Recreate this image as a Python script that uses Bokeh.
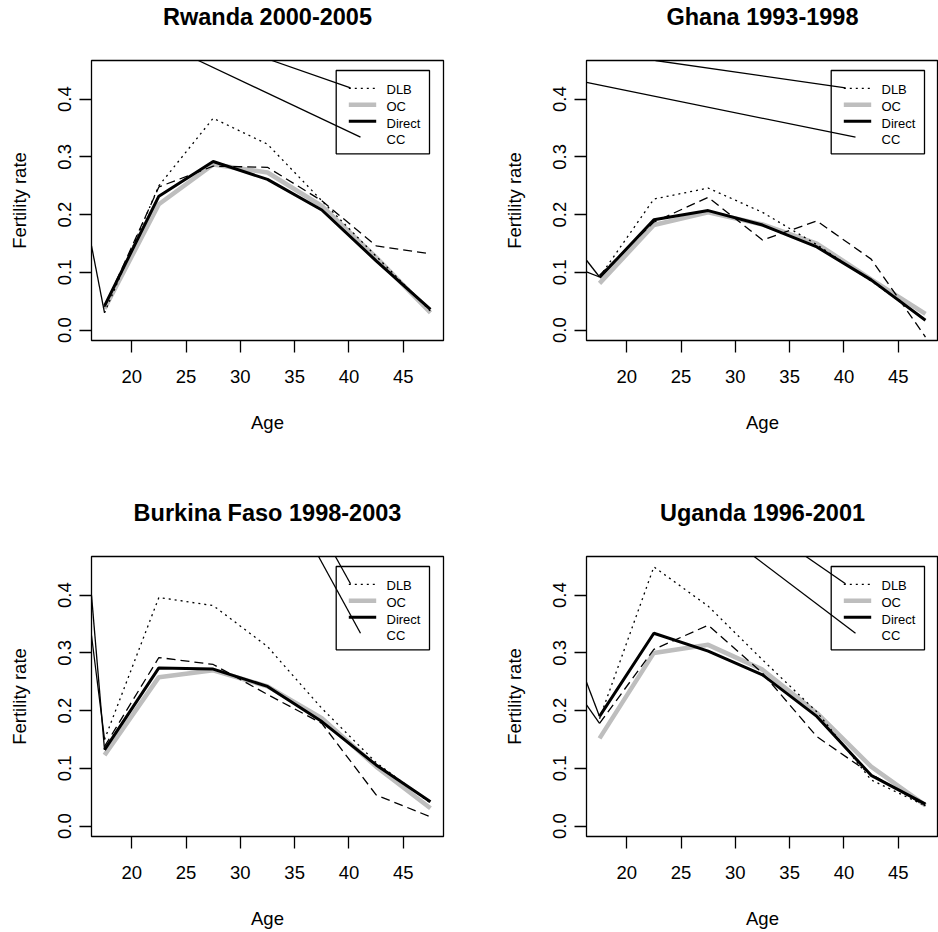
from bokeh.plotting import figure
from bokeh.models import Range1d, FixedTicker, NumeralTickFormatter, LinearAxis
from bokeh.layouts import column, row
from bokeh.embed import file_html
from bokeh.resources import INLINE
from bokeh.core.properties import value

# ---------------- data ----------------
ages = [17.5, 22.5, 27.5, 32.5, 37.5, 42.5, 47.5]
x_ticks = [20, 25, 30, 35, 40, 45]
y_ticks = [0.0, 0.1, 0.2, 0.3, 0.4]
titles = ["Rwanda 2000-2005", "Ghana 1993-1998",
          "Burkina Faso 1998-2003", "Uganda 1996-2001"]
legend_labels = ["DLB", "OC", "Direct", "CC"]

rwanda_dlb    = [0.030, 0.250, 0.367, 0.322, 0.224, 0.128, 0.033]
rwanda_oc     = [0.037, 0.218, 0.287, 0.273, 0.215, 0.126, 0.030]
rwanda_direct = [0.042, 0.232, 0.292, 0.261, 0.208, 0.120, 0.036]
rwanda_cc     = [0.040, 0.248, 0.284, 0.282, 0.224, 0.146, 0.132]

ghana_dlb    = [0.092, 0.227, 0.246, 0.204, 0.148, 0.085, 0.018]
ghana_oc     = [0.081, 0.182, 0.204, 0.183, 0.150, 0.088, 0.028]
ghana_direct = [0.091, 0.191, 0.207, 0.182, 0.144, 0.087, 0.017]
ghana_cc     = [0.095, 0.187, 0.230, 0.156, 0.189, 0.123, -0.012]

burkina_dlb    = [0.150, 0.396, 0.382, 0.311, 0.204, 0.110, 0.040]
burkina_oc     = [0.123, 0.258, 0.270, 0.242, 0.187, 0.103, 0.031]
burkina_direct = [0.132, 0.274, 0.272, 0.242, 0.181, 0.106, 0.042]
burkina_cc     = [0.138, 0.292, 0.280, 0.228, 0.178, 0.054, 0.016]

uganda_dlb    = [0.186, 0.449, 0.381, 0.288, 0.198, 0.080, 0.035]
uganda_oc     = [0.152, 0.300, 0.314, 0.271, 0.196, 0.103, 0.036]
uganda_direct = [0.190, 0.334, 0.303, 0.262, 0.190, 0.088, 0.038]
uganda_cc     = [0.178, 0.306, 0.348, 0.265, 0.155, 0.090, 0.035]

panel_series = [
    (rwanda_dlb, rwanda_oc, rwanda_direct, rwanda_cc),
    (ghana_dlb, ghana_oc, ghana_direct, ghana_cc),
    (burkina_dlb, burkina_oc, burkina_direct, burkina_cc),
    (uganda_dlb, uganda_oc, uganda_direct, uganda_cc),
]

# stray thin lines seen in the original (data coordinates)
# long lines: where they enter the frame (x, y); they run to the legend
stray_dlb_entry = [(32.9, 0.467), (22.65, 0.467), (38.75, 0.467), (36.5, 0.467)]
stray_cc_entry  = [(26.13, 0.467), (16.3, 0.429), (37.2, 0.467), (31.73, 0.467)]
# short lines from the left edge to the first age group
stray_left = [
    [(0.146, 0.030)],
    [(0.121, 0.092), (0.101, 0.092)],
    [(0.400, 0.132), (0.330, 0.150)],
    [(0.249, 0.190), (0.210, 0.178)],
]

# ---------------- layout ----------------
XR = (16.3, 48.7)
YR = (-0.018, 0.467)
FW, FH = 352, 280
FONT = "Liberation Sans"
GRAY = "#BEBEBE"


def px2x(off):
    return XR[0] + off * (XR[1] - XR[0]) / FW


def px2y(off):
    return YR[1] - off * (YR[1] - YR[0]) / FH


def make_panel(i):
    col = i % 2
    rw = i // 2
    p = figure(frame_width=FW, frame_height=FH,
               x_range=Range1d(*XR), y_range=Range1d(*YR),
               output_backend="svg", toolbar_location=None,
               min_border_left=91, min_border_right=(52 if col == 0 else 0),
               min_border_top=60, min_border_bottom=(156 if rw == 0 else 96),
               background_fill_color="white", border_fill_color="white")
    p.outline_line_color = "black"
    p.outline_line_width = 1.3
    p.grid.visible = False

    xax = p.below[0]
    yax = p.left[0]

    for ax in (xax, yax):
        ax.axis_line_color = None
        ax.major_tick_line_color = "black"
        ax.major_tick_line_width = 1.3
        ax.major_tick_out = 12
        ax.major_tick_in = 0
        ax.minor_tick_line_color = None
        ax.major_label_text_font = FONT
        ax.major_label_text_font_size = "18.5px"
        ax.major_label_text_color = "black"
        ax.axis_label_text_font = FONT
        ax.axis_label_text_font_size = "18.5px"
        ax.axis_label_text_font_style = "normal"
        ax.axis_label_text_color = "black"
    xax.ticker = FixedTicker(ticks=x_ticks)
    yax.ticker = FixedTicker(ticks=y_ticks)
    yax.formatter = NumeralTickFormatter(format="0.0")
    yax.major_label_orientation = "vertical"
    xax.axis_label = "Age"
    yax.axis_label = "Fertility rate"
    xax.major_label_standoff = 17
    yax.major_label_standoff = 8
    xax.axis_label_standoff = 26
    yax.axis_label_standoff = 26

    # title: an empty axis above the frame whose label is the panel title
    top = LinearAxis(ticker=FixedTicker(ticks=[]), axis_label=titles[i],
                     axis_line_color=None, major_tick_line_color=None,
                     minor_tick_line_color=None, major_label_text_font_size="0px",
                     major_tick_out=0, major_tick_in=0, major_label_standoff=0,
                     axis_label_standoff=31, axis_label_text_font=FONT,
                     axis_label_text_font_style="bold",
                     axis_label_text_font_size="23.5px",
                     axis_label_text_color="black")
    p.add_layout(top, "above")

    dlb, oc, direct, cc = panel_series[i]
    p.line(ages, oc, line_color=GRAY, line_width=4.5)
    p.line(ages, direct, line_color="black", line_width=3)
    p.line(ages, dlb, line_color="black", line_width=1.3, line_dash="2 4")
    p.line(ages, cc, line_color="black", line_width=1.3, line_dash="9 5")

    # stray thin lines
    for (y0, y1) in stray_left[i]:
        p.line([XR[0], ages[0]], [y0, y1], line_color="black", line_width=1.3)
    ex, ey = stray_dlb_entry[i]
    p.line([ex, px2x(259)], [ey, px2y(27.3)], line_color="black", line_width=1.3)
    ex, ey = stray_cc_entry[i]
    p.line([ex, px2x(269)], [ey, px2y(76.7)], line_color="black", line_width=1.3)

    # legend (drawn by hand, like R's legend())
    p.quad(left=[px2x(244.7)], right=[px2x(338)], top=[px2y(10)], bottom=[px2y(93.3)],
           fill_color=None, line_color="black", line_width=1.3)
    sx0, sx1 = px2x(257.3), px2x(284.7)
    p.line([sx0, sx1], [px2y(27.8)] * 2, line_color="black", line_width=1.3, line_dash="2 4")
    p.line([sx0, sx1], [px2y(44.2)] * 2, line_color=GRAY, line_width=4.5)
    p.line([sx0, sx1], [px2y(60.8)] * 2, line_color="black", line_width=3)
    p.text(x=[px2x(295)] * 4, y=[px2y(o) for o in (29.3, 45.7, 62.5, 79.3)],
           text=legend_labels, text_font=value(FONT), text_font_size=value("13px"),
           text_baseline="middle", text_align="left", text_color="black")
    return p


panels = [make_panel(i) for i in range(4)]
layout = column(row(panels[0], panels[1]), row(panels[2], panels[3]))

open("out.html", "w").write(file_html(layout, INLINE))
